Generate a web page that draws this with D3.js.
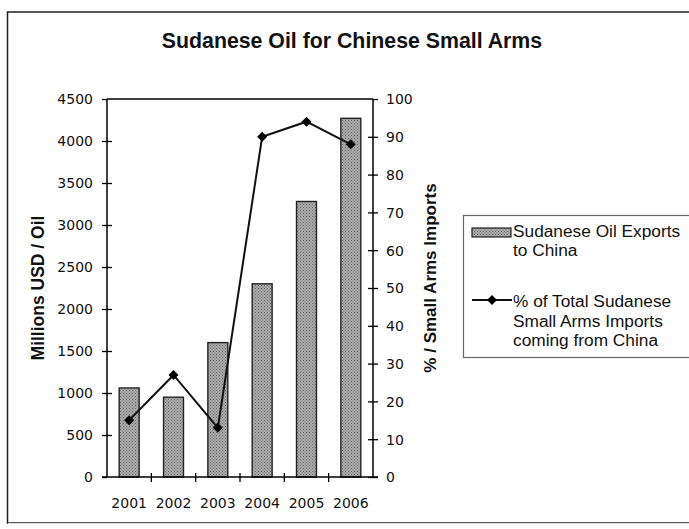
<!DOCTYPE html>
<html><head><meta charset="utf-8">
<script src="https://cdn.jsdelivr.net/npm/d3@7"></script>
<style>
html,body{margin:0;padding:0;background:#fff;}
svg{display:block;}
</style></head>
<body>
<svg id="chart" width="689" height="529"></svg>
<script>
const years = ["2001","2002","2003","2004","2005","2006"];
const oilExports = [1060, 950, 1600, 2300, 3280, 4270];
const armsShare = [15, 27, 13, 90, 94, 88];
const leftTicks = [0,500,1000,1500,2000,2500,3000,3500,4000,4500];
const rightTicks = [0,10,20,30,40,50,60,70,80,90,100];
const title = "Sudanese Oil for Chinese Small Arms";
const leftLabel = "Millions USD / Oil";
const rightLabel = "% / Small Arms Imports";
const legendBar = ["Sudanese Oil Exports", "to China"];
const legendLine = ["% of Total Sudanese", "Small Arms Imports", "coming from China"];

const svg = d3.select("#chart");
const M = {left:107, right:373, top:99, bottom:477};

// outer frame
svg.append("rect").attr("x",7.5).attr("y",12).attr("width",690).attr("height",511)
  .attr("fill","none").attr("stroke","#222").attr("stroke-width",1.5);
svg.append("line").attr("x1",8).attr("x2",689).attr("y1",523.5).attr("y2",523.5).attr("stroke","#ddd");

// pattern
const defs = svg.append("defs");
const pat = defs.append("pattern").attr("id","dots").attr("patternUnits","userSpaceOnUse")
  .attr("width",3).attr("height",3);
pat.append("rect").attr("width",3).attr("height",3).attr("fill","#acacac");
pat.append("rect").attr("x",0).attr("y",0).attr("width",1).attr("height",1).attr("fill","#626262");
pat.append("rect").attr("x",1.5).attr("y",1.5).attr("width",1).attr("height",1).attr("fill","#6e6e6e");

const x = d3.scaleBand().domain(years).range([M.left, M.right]).paddingInner(0.55).paddingOuter(0.275);
const xb = d3.scaleBand().domain(years).range([M.left, M.right]);
const yL = d3.scaleLinear().domain([0,4500]).range([M.bottom, M.top]);
const yR = d3.scaleLinear().domain([0,100]).range([M.bottom, M.top]);

const boldFont = "Liberation Sans, Arial, sans-serif";
// title
svg.append("text").attr("x",352).attr("y",48).attr("text-anchor","middle")
  .attr("font-family",boldFont).attr("font-weight","bold")
  .attr("font-size",21.3).attr("fill","#111").text(title);

// bars
svg.append("g").selectAll("rect").data(years).join("rect")
  .attr("x", d=>x(d)).attr("width", x.bandwidth())
  .attr("y", (d,i)=>yL(oilExports[i])).attr("height",(d,i)=>M.bottom - yL(oilExports[i]))
  .attr("fill","url(#dots)").attr("stroke","#222").attr("stroke-width",1.4);

// plot top line
svg.append("line").attr("x1",M.left).attr("x2",M.right).attr("y1",M.top).attr("y2",M.top)
  .attr("stroke","#000").attr("stroke-width",1.5);

const tickFont = "DejaVu Sans, Verdana, sans-serif";
// left axis
const gL = svg.append("g").attr("transform",`translate(${M.left},0)`)
  .call(d3.axisLeft(yL).tickValues(leftTicks).tickSize(5).tickPadding(9).tickFormat(d3.format("d")));
gL.selectAll(".tick line").attr("x2",5).attr("x1",-5).attr("stroke-width",1.3);
gL.selectAll(".tick").filter(d=>d===0 || d===4500).select("line").attr("x2",0);
gL.select(".domain").attr("stroke-width",1.5).attr("d",`M0,${M.top}V${M.bottom}`);
gL.selectAll("text").attr("font-family",tickFont).attr("font-size",14).attr("fill","#111").attr("dy","0.35em");

// right axis
const gR = svg.append("g").attr("transform",`translate(${M.right},0)`)
  .call(d3.axisRight(yR).tickValues(rightTicks).tickSize(5).tickPadding(8).tickFormat(d3.format("d")));
gR.selectAll(".tick line").attr("x1",-5).attr("x2",5).attr("stroke-width",1.3);
gR.selectAll(".tick").filter(d=>d===100).select("line").attr("x1",0);
gR.select(".domain").attr("stroke-width",1.5).attr("d",`M0,${M.top}V${M.bottom}`);
gR.selectAll("text").attr("font-family",tickFont).attr("font-size",14).attr("fill","#111").attr("dy","0.35em");

// bottom axis
const gB = svg.append("g").attr("transform",`translate(0,${M.bottom})`);
gB.append("line").attr("x1",M.left-5).attr("x2",M.right+5).attr("stroke","#000").attr("stroke-width",1.5);
gB.selectAll("line.t").data(years.slice(1)).join("line").attr("class","t")
  .attr("x1",d=>xb(d)).attr("x2",d=>xb(d)).attr("y1",-4).attr("y2",5)
  .attr("stroke","#000").attr("stroke-width",1.3);
gB.selectAll("text").data(years).join("text")
  .attr("x",d=>xb(d)+xb.bandwidth()/2).attr("y",31).attr("text-anchor","middle")
  .attr("font-family",tickFont).attr("font-size",14).attr("fill","#111").text(d=>d);

// axis titles
svg.append("text").attr("transform",`translate(44,288) rotate(-90)`).attr("text-anchor","middle")
  .attr("font-family",boldFont).attr("font-weight","bold")
  .attr("font-size",17.5).attr("fill","#111").text(leftLabel);
svg.append("text").attr("transform",`translate(436,278) rotate(-90)`).attr("text-anchor","middle")
  .attr("font-family",boldFont).attr("font-weight","bold")
  .attr("font-size",17).attr("fill","#111").text(rightLabel);

// line
const cx = d=>xb(d)+xb.bandwidth()/2;
const line = d3.line().x((d,i)=>cx(years[i])).y(d=>yR(d));
svg.append("path").datum(armsShare).attr("d",line).attr("fill","none")
  .attr("stroke","#111").attr("stroke-width",2);
const diamond = d3.symbol().type(d3.symbolDiamond2).size(64);
svg.append("g").selectAll("path").data(armsShare).join("path")
  .attr("transform",(d,i)=>`translate(${cx(years[i])},${yR(d)})`)
  .attr("d",diamond).attr("fill","#000");

// legend
const lg = svg.append("g");
lg.append("rect").attr("x",463.5).attr("y",215.5).attr("width",240).attr("height",142)
  .attr("fill","#fff").attr("stroke","#666").attr("stroke-width",1.2);
lg.append("rect").attr("x",472).attr("y",228).attr("width",39).attr("height",9)
  .attr("fill","url(#dots)").attr("stroke","#222").attr("stroke-width",1.2);
lg.append("line").attr("x1",472).attr("x2",512).attr("y1",300).attr("y2",300)
  .attr("stroke","#111").attr("stroke-width",2);
lg.append("path").attr("transform","translate(492,300)").attr("d",diamond).attr("fill","#000");
const lf = "Liberation Sans, Arial, sans-serif";
lg.selectAll("text.a").data(legendBar).join("text").attr("class","a")
  .attr("x",513).attr("y",(d,i)=>237+i*19).attr("font-family",lf).attr("font-size",17.3).attr("fill","#111").text(d=>d);
lg.selectAll("text.b").data(legendLine).join("text").attr("class","b")
  .attr("x",513).attr("y",(d,i)=>307+i*19.5).attr("font-family",lf).attr("font-size",17.3).attr("fill","#111").text(d=>d);
</script>
</body></html>
